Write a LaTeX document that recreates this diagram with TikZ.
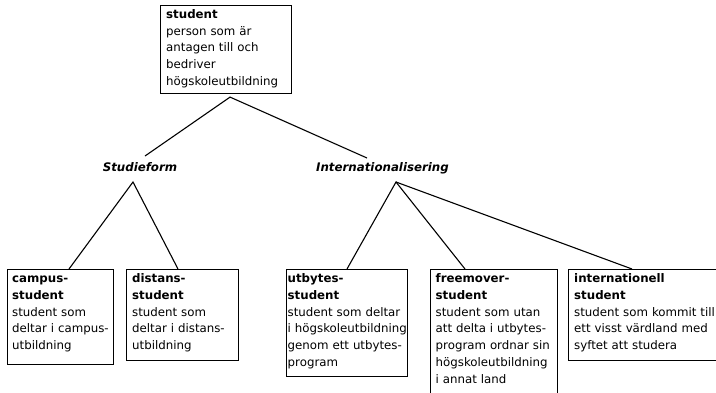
\documentclass[tikz,border=0pt]{standalone}
\usepackage{fontspec}
\setmainfont{DejaVu Sans}
\usetikzlibrary{calc}
\begin{document}
\begin{tikzpicture}[x=1pt,y=-1pt,
  box/.style={draw=black, line width=1.1pt, rectangle, inner sep=0pt, anchor=north west},
  txt/.style={anchor=north west, inner sep=0pt, align=left, text width=160pt,
    font=\fontsize{11.8}{16.7}\selectfont},
  cat/.style={anchor=base, inner sep=0pt, font=\fontsize{11.8}{14}\selectfont\bfseries\itshape},
  link/.style={draw=black, line width=1.1pt}]
\useasboundingbox[fill=white] (0,0) rectangle (716,392);
% boxes
\node[box, minimum width=131pt, minimum height=88pt] (top) at (160,5) {};
\node[box, minimum width=106pt, minimum height=95pt] (campus) at (7,269) {};
\node[box, minimum width=112pt, minimum height=91pt] (distans) at (126,269) {};
\node[box, minimum width=121pt, minimum height=107pt] (utbytes) at (286,269) {};
\node[box, minimum width=127pt, minimum height=140pt] (free) at (430,269) {};
\node[box, minimum width=170pt, minimum height=91pt] (intl) at (568,269) {};
% texts
\node[txt] (toptxt) at (166,6.5) {\strut\textbf{student}\\person som är\\antagen till och\\bedriver\\högskoleutbildning};
\node[txt] (campustxt) at (12,271) {\strut\textbf{campus-}\\\textbf{student}\\student som\\deltar i campus-\\utbildning};
\node[txt] (distanstxt) at (132,271) {\strut\textbf{distans-}\\\textbf{student}\\student som\\deltar i distans-\\utbildning};
\node[txt] (utbytestxt) at (287.5,271) {\strut\textbf{utbytes-}\\\textbf{student}\\student som deltar\\i högskoleutbildning\\genom ett utbytes-\\program};
\node[txt] (freetxt) at (435.5,271) {\strut\textbf{freemover-}\\\textbf{student}\\student som utan\\att delta i utbytes-\\program ordnar sin\\högskoleutbildning\\i annat land};
\node[txt] (intltxt) at (574,271) {\strut\textbf{internationell}\\\textbf{student}\\student som kommit till\\ett visst värdland med\\syftet att studera};
% category labels
\node[cat] (studie) at (140,171) {Studieform};
\node[cat] (inter) at (382.5,171) {Internationalisering};
% apex / end coordinates
\coordinate (a0) at ($(top.south)+(4,3)$);
\coordinate (s1) at ($(studie.base)+(5,-15)$);
\coordinate (i1) at ($(inter.base)+(-15.5,-13)$);
\coordinate (s2) at ($(studie.base)+(-7,11)$);
\coordinate (i2) at ($(inter.base)+(13.5,11)$);
\draw[link] (s1) -- (a0) -- (i1);
\draw[link] ($(campus.north west)+(62,0)$) -- (s2) -- ($(distans.north west)+(52,0)$);
\draw[link] ($(utbytes.north west)+(61,0)$) -- (i2) -- ($(free.north west)+(35,0)$);
\draw[link] (i2) -- ($(intl.north west)+(64,0)$);
\end{tikzpicture}
\end{document}
